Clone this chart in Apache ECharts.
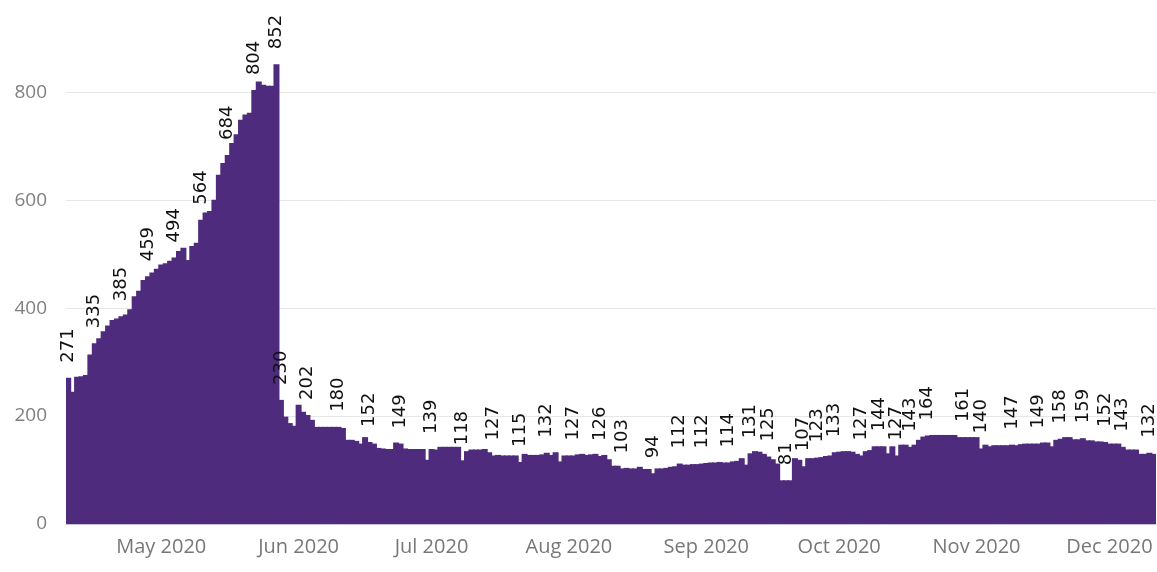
<!DOCTYPE html>
<html>
<head>
<meta charset="utf-8">
<script src="https://cdn.jsdelivr.net/npm/echarts@6/dist/echarts.min.js"></script>
<style>
html,body{margin:0;padding:0;background:#fff;}
#chart{width:1157px;height:572px;}
</style>
</head>
<body>
<div id="chart"></div>
<script>
// Daily values, 10 Apr 2020 .. 11 Dec 2020
var startDate = '2020-04-10';
var values = [
271,245,273,274,276,314,335,344,357,368,378,381,385,388,398,422,432,452,459,466,
473,481,483,488,494,506,512,489,515,521,564,577,580,601,647,669,684,706,722,749,
759,762,804,820,814,812,812,852,230,199,187,182,221,208,202,193,180,180,180,180,
180,180,178,156,156,154,149,161,152,149,141,140,139,139,151,149,140,139,139,139,
139,119,139,138,143,143,143,143,143,118,135,138,138,138,139,133,127,128,127,127,
127,127,115,130,128,128,128,129,132,128,133,116,127,127,127,129,130,128,129,130,
126,128,120,108,108,103,104,103,103,106,102,102,94,103,103,104,106,107,112,110,
110,111,111,112,113,114,114,115,114,114,116,117,122,110,131,135,134,130,125,120,
112,81,81,81,122,119,107,122,122,123,124,126,127,133,134,135,135,134,130,127,
135,137,144,144,144,131,144,127,147,147,143,147,156,162,164,165,165,165,165,165,
165,161,161,161,161,161,140,147,144,146,146,146,146,147,146,148,149,149,149,149,
151,151,144,156,158,161,161,157,157,159,155,155,153,153,152,149,149,149,143,138,
138,138,130,130,132,130
];
// indices (days) that carry a data label
var labelledDays = [0,6,12,18,24,30,36,42,47,48,54,61,68,75,82,89,96,102,108,114,120,125,132,138,143,149,154,158,162,166,169,173,179,183,187,190,194,202,206,213,219,224,229,234,238,244];
var monthNames = ['Jan','Feb','Mar','Apr','May','Jun','Jul','Aug','Sep','Oct','Nov','Dec'];
var yTicks = [0,200,400,600,800];

function pad(n){return n<10?'0'+n:''+n;}
var categories = [];
var d0 = new Date(startDate + 'T00:00:00Z');
for (var i = 0; i < values.length; i++) {
  var d = new Date(d0.getTime() + i*86400000);
  categories.push(d.getUTCFullYear()+'-'+pad(d.getUTCMonth()+1)+'-'+pad(d.getUTCDate()));
}
var seriesData = values.map(function(v, i){
  if (labelledDays.indexOf(i) >= 0) return {value: v, label: {show: true}};
  return v;
});

var chart = echarts.init(document.getElementById('chart'), null, {renderer:'canvas'});
chart.setOption({
  animation: false,
  backgroundColor: '#ffffff',
  grid: {left: 66, right: 1, top: 0, bottom: 48, containLabel: false},
  xAxis: {
    type: 'category',
    data: categories,
    boundaryGap: true,
    axisLine: {show: true, lineStyle: {color: '#c9c3d6', width: 1}},
    axisTick: {show: false},
    axisLabel: {
      interval: function(idx, val){ return val.slice(8) === '01'; },
      formatter: function(val){ return monthNames[parseInt(val.slice(5,7),10)-1] + ' ' + val.slice(0,4); },
      color: '#777777',
      fontFamily: "'Open Sans', 'Noto Sans', sans-serif",
      fontSize: 20,
      margin: 13
    },
    splitLine: {show: false}
  },
  yAxis: {
    type: 'value',
    min: 0,
    max: 971,
    interval: 200,
    axisLine: {show: false},
    axisTick: {show: false},
    axisLabel: {
      color: '#808080',
      fontFamily: "'Open Sans', 'Noto Sans', sans-serif",
      fontSize: 19,
      margin: 19,
      showMaxLabel: false,
      formatter: function(v){ return yTicks.indexOf(v) >= 0 ? String(v) : ''; }
    },
    splitLine: {show: true, showMaxLine: false, lineStyle: {color: '#e6e6e6', width: 1}}
  },
  series: [{
    type: 'bar',
    data: seriesData,
    barWidth: 6,
    itemStyle: {color: '#4e2b7d'},
    label: {
      show: false,
      position: 'top',
      rotate: 90,
      align: 'left',
      verticalAlign: 'middle',
      distance: 15,
      color: '#111111',
      fontFamily: "'DejaVu Sans', sans-serif",
      fontSize: 18
    }
  }]
});
</script>
</body>
</html>
